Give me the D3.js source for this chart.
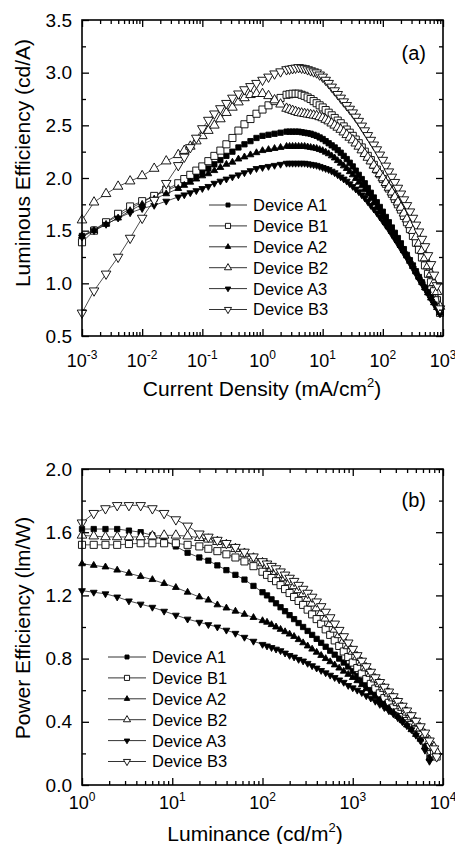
<!DOCTYPE html>
<html>
<head>
<meta charset="utf-8">
<script src="https://cdn.jsdelivr.net/npm/d3@7"></script>
<style>
  body { margin: 0; background: #fff; }
  svg text { font-family: "Liberation Sans", Arial, sans-serif; fill: #000; }
</style>
</head>
<body>
<div id="chart"></div>
<script>
// Series names (legend order)
const devices = ['Device A1', 'Device B1', 'Device A2', 'Device B2', 'Device A3', 'Device B3']

// Panel (a): log10 of current density (mA/cm2) and luminous efficiency (cd/A)
const logJ = [-3, -2.8, -2.6, -2.4, -2.2, -2, -1.8, -1.6, -1.4,
  -1.3, -1.2, -1.1, -1, -0.9, -0.8, -0.7, -0.6, -0.5, -0.4, -0.3, -0.2, -0.1, 0, 0.1, 0.2, 0.3, 0.4,
  0.45, 0.5, 0.55, 0.6, 0.65, 0.7, 0.75, 0.8, 0.85, 0.9, 0.95, 1, 1.05, 1.1, 1.15, 1.2, 1.25, 1.3, 1.35, 1.4,
  1.45, 1.5, 1.55, 1.6, 1.65, 1.7, 1.75, 1.8, 1.85, 1.9, 1.95, 2, 2.05, 2.1, 2.15, 2.2, 2.25, 2.3, 2.35, 2.4,
  2.45, 2.5, 2.55, 2.6, 2.65, 2.7, 2.75, 2.8, 2.85, 2.9, 2.95]
const leA1 = [1.45, 1.51, 1.58, 1.64, 1.71, 1.77, 1.83, 1.88, 1.93,
  1.96, 1.99, 2.02, 2.05, 2.09, 2.13, 2.17, 2.21, 2.25, 2.29, 2.32, 2.35, 2.38, 2.40, 2.41, 2.42, 2.43, 2.44,
  2.44, 2.44, 2.44, 2.44, 2.435, 2.43, 2.425, 2.42, 2.41, 2.40, 2.385, 2.37, 2.35, 2.33, 2.31, 2.29, 2.265, 2.24, 2.21, 2.18,
  2.145, 2.11, 2.07, 2.03, 1.99, 1.95, 1.905, 1.86, 1.815, 1.77, 1.725, 1.68, 1.63, 1.58, 1.53, 1.48, 1.43, 1.38, 1.325, 1.27,
  1.22, 1.17, 1.115, 1.06, 1.01, 0.96, 0.915, 0.87, 0.825, 0.78, 0.73]
const leB1 = [1.39, 1.50, 1.58, 1.66, 1.73, 1.78, 1.83, 1.89, 1.95,
  1.99, 2.03, 2.07, 2.11, 2.16, 2.21, 2.26, 2.32, 2.38, 2.45, 2.51, 2.56, 2.61, 2.65, 2.69, 2.73, 2.76, 2.79,
  2.795, 2.80, 2.80, 2.80, 2.79, 2.78, 2.765, 2.75, 2.73, 2.71, 2.69, 2.67, 2.645, 2.62, 2.595, 2.57, 2.545, 2.52, 2.49, 2.46,
  2.43, 2.40, 2.365, 2.33, 2.29, 2.25, 2.21, 2.17, 2.125, 2.08, 2.035, 1.99, 1.945, 1.90, 1.85, 1.80, 1.75, 1.70, 1.64, 1.58,
  1.515, 1.45, 1.385, 1.32, 1.245, 1.17, 1.09, 1.01, 0.925, 0.84, 0.72]
const leA2 = [1.45, 1.50, 1.56, 1.62, 1.69, 1.75, 1.80, 1.85, 1.90,
  1.93, 1.96, 1.99, 2.02, 2.04, 2.07, 2.10, 2.13, 2.15, 2.18, 2.20, 2.22, 2.24, 2.26, 2.27, 2.28, 2.29, 2.30,
  2.30, 2.30, 2.30, 2.30, 2.30, 2.30, 2.295, 2.29, 2.285, 2.28, 2.27, 2.26, 2.245, 2.23, 2.21, 2.19, 2.165, 2.14, 2.115, 2.09,
  2.06, 2.03, 1.995, 1.96, 1.925, 1.89, 1.85, 1.81, 1.765, 1.72, 1.675, 1.63, 1.585, 1.54, 1.495, 1.45, 1.405, 1.36, 1.31, 1.26,
  1.21, 1.16, 1.11, 1.06, 1.01, 0.96, 0.91, 0.86, 0.815, 0.77, 0.72]
const leB2 = [1.60, 1.77, 1.85, 1.92, 1.97, 2.02, 2.09, 2.16, 2.22,
  2.26, 2.30, 2.35, 2.40, 2.45, 2.50, 2.56, 2.62, 2.67, 2.72, 2.76, 2.79, 2.80, 2.80, 2.78, 2.74, 2.70, 2.66,
  2.65, 2.64, 2.63, 2.62, 2.615, 2.61, 2.605, 2.60, 2.595, 2.59, 2.58, 2.57, 2.555, 2.54, 2.52, 2.50, 2.48, 2.46, 2.435, 2.41,
  2.385, 2.36, 2.33, 2.30, 2.265, 2.23, 2.195, 2.16, 2.12, 2.08, 2.04, 2.00, 1.955, 1.91, 1.865, 1.82, 1.77, 1.72, 1.665, 1.61,
  1.555, 1.50, 1.44, 1.38, 1.31, 1.24, 1.165, 1.09, 1.005, 0.92, 0.78]
const leA3 = [1.44, 1.50, 1.56, 1.62, 1.67, 1.71, 1.74, 1.78, 1.82,
  1.84, 1.86, 1.88, 1.90, 1.92, 1.95, 1.97, 1.99, 2.01, 2.03, 2.05, 2.07, 2.09, 2.10, 2.11, 2.12, 2.13, 2.14,
  2.14, 2.14, 2.14, 2.14, 2.14, 2.14, 2.135, 2.13, 2.125, 2.12, 2.11, 2.10, 2.09, 2.08, 2.065, 2.05, 2.03, 2.01, 1.99, 1.97,
  1.945, 1.92, 1.895, 1.87, 1.84, 1.81, 1.775, 1.74, 1.705, 1.67, 1.63, 1.59, 1.55, 1.51, 1.465, 1.42, 1.375, 1.33, 1.285, 1.24,
  1.19, 1.14, 1.09, 1.04, 0.995, 0.95, 0.90, 0.85, 0.805, 0.76, 0.71]
const leB3 = [0.72, 0.93, 1.09, 1.25, 1.43, 1.62, 1.79, 1.95, 2.12,
  2.20, 2.29, 2.38, 2.47, 2.55, 2.61, 2.66, 2.71, 2.76, 2.80, 2.84, 2.87, 2.90, 2.93, 2.96, 2.99, 3.01, 3.03,
  3.035, 3.04, 3.045, 3.05, 3.045, 3.04, 3.03, 3.02, 3.01, 3.00, 2.98, 2.96, 2.93, 2.90, 2.865, 2.83, 2.795, 2.76, 2.725, 2.69,
  2.655, 2.62, 2.58, 2.54, 2.495, 2.45, 2.405, 2.36, 2.315, 2.27, 2.22, 2.17, 2.115, 2.06, 2.01, 1.96, 1.905, 1.85, 1.795, 1.74,
  1.68, 1.62, 1.555, 1.49, 1.42, 1.35, 1.265, 1.18, 1.08, 0.98, 0.76]

// Panel (b): log10 of luminance (cd/m2) and power efficiency (lm/W)
const logL = [0, 0.13, 0.26, 0.39, 0.52, 0.65, 0.78, 0.91, 1.04, 1.17, 1.3, 1.4, 1.5, 1.6, 1.7, 1.8, 1.9, 2,
  2.05, 2.1, 2.15, 2.2, 2.25, 2.3, 2.35, 2.4, 2.45, 2.5, 2.55, 2.6, 2.65, 2.7, 2.75, 2.8, 2.85, 2.9, 2.95,
  3, 3.05, 3.1, 3.15, 3.2, 3.25, 3.3, 3.35, 3.4, 3.45, 3.5, 3.55, 3.6, 3.65, 3.7, 3.75, 3.8, 3.85, 3.9, 3.93]
const peA1 = [1.62, 1.62, 1.62, 1.62, 1.61, 1.60, 1.58, 1.55, 1.51, 1.47, 1.44, 1.42, 1.39, 1.36, 1.33, 1.30, 1.26, 1.22,
  1.20, 1.175, 1.15, 1.125, 1.10, 1.075, 1.05, 1.025, 1.00, 0.975, 0.95, 0.925, 0.90, 0.875, 0.85, 0.825, 0.80, 0.775, 0.75,
  0.72, 0.69, 0.66, 0.63, 0.605, 0.58, 0.55, 0.52, 0.495, 0.47, 0.44, 0.41, 0.385, 0.36, 0.33, 0.30, 0.25, 0.17]
const peB1 = [1.52, 1.52, 1.52, 1.52, 1.525, 1.53, 1.53, 1.53, 1.53, 1.52, 1.51, 1.495, 1.48, 1.46, 1.44, 1.415, 1.385, 1.35,
  1.33, 1.31, 1.29, 1.265, 1.24, 1.215, 1.19, 1.165, 1.14, 1.11, 1.08, 1.05, 1.02, 0.985, 0.95, 0.915, 0.88, 0.845, 0.81,
  0.775, 0.74, 0.705, 0.67, 0.64, 0.61, 0.58, 0.55, 0.52, 0.49, 0.46, 0.43, 0.405, 0.38, 0.35, 0.32, 0.28, 0.24, 0.20, 0.18]
const peA2 = [1.40, 1.39, 1.38, 1.36, 1.34, 1.32, 1.30, 1.275, 1.25, 1.22, 1.19, 1.17, 1.14, 1.12, 1.10, 1.08, 1.06, 1.04,
  1.03, 1.015, 1.00, 0.985, 0.97, 0.955, 0.94, 0.92, 0.90, 0.88, 0.86, 0.84, 0.82, 0.80, 0.78, 0.76, 0.74, 0.72, 0.70,
  0.68, 0.66, 0.635, 0.61, 0.585, 0.56, 0.535, 0.51, 0.485, 0.46, 0.435, 0.41, 0.38, 0.35, 0.32, 0.29, 0.24, 0.17]
const peB2 = [1.58, 1.575, 1.57, 1.57, 1.57, 1.57, 1.575, 1.58, 1.58, 1.575, 1.565, 1.555, 1.54, 1.52, 1.495, 1.465, 1.435, 1.405,
  1.39, 1.37, 1.35, 1.33, 1.31, 1.285, 1.26, 1.235, 1.21, 1.18, 1.15, 1.12, 1.09, 1.055, 1.02, 0.985, 0.95, 0.915, 0.88,
  0.845, 0.81, 0.775, 0.74, 0.705, 0.67, 0.64, 0.61, 0.58, 0.55, 0.52, 0.49, 0.46, 0.43, 0.395, 0.36, 0.32, 0.28, 0.24, 0.21]
const peA3 = [1.23, 1.22, 1.21, 1.19, 1.165, 1.145, 1.125, 1.10, 1.075, 1.05, 1.03, 1.015, 1.00, 0.98, 0.96, 0.935, 0.91, 0.89,
  0.88, 0.87, 0.86, 0.85, 0.835, 0.82, 0.81, 0.795, 0.785, 0.77, 0.755, 0.74, 0.725, 0.71, 0.695, 0.68, 0.665, 0.65, 0.63,
  0.615, 0.60, 0.585, 0.565, 0.55, 0.53, 0.51, 0.49, 0.47, 0.45, 0.425, 0.40, 0.375, 0.35, 0.315, 0.28, 0.22, 0.15]
const peB3 = [1.66, 1.72, 1.75, 1.77, 1.77, 1.77, 1.75, 1.72, 1.68, 1.64, 1.59, 1.57, 1.55, 1.53, 1.505, 1.475, 1.445, 1.415,
  1.40, 1.385, 1.37, 1.35, 1.33, 1.31, 1.29, 1.265, 1.24, 1.215, 1.19, 1.16, 1.13, 1.095, 1.06, 1.02, 0.98, 0.94, 0.90,
  0.86, 0.82, 0.785, 0.75, 0.715, 0.68, 0.65, 0.62, 0.59, 0.56, 0.53, 0.50, 0.47, 0.44, 0.405, 0.37, 0.33, 0.28, 0.23, 0.18]

// Tick labels
const jTicks = [1e-3, 1e-2, 1e-1, 1, 10, 100, 1000]
const jExp = ['-3', '-2', '-1', '0', '1', '2', '3']
const leTicks = [0.5, 1.0, 1.5, 2.0, 2.5, 3.0, 3.5]
const leMinor = [0.75, 1.25, 1.75, 2.25, 2.75, 3.25]
const lTicks = [1, 10, 100, 1000, 10000]
const lExp = ['0', '1', '2', '3', '4']
const peTicks = [0.0, 0.4, 0.8, 1.2, 1.6, 2.0]
const peMinor = [0.2, 0.6, 1.0, 1.4, 1.8]

// marker style per device
const marks = [
  { type: d3.symbolSquare, fill: '#000', size: 28, lsize: 16, rot: 0 },
  { type: d3.symbolSquare, fill: '#fff', size: 50, lsize: 26, rot: 0 },
  { type: d3.symbolTriangle, fill: '#000', size: 20, lsize: 13, rot: 0 },
  { type: d3.symbolTriangle, fill: '#fff', size: 40, lsize: 22, rot: 0 },
  { type: d3.symbolTriangle, fill: '#000', size: 20, lsize: 13, rot: 180 },
  { type: d3.symbolTriangle, fill: '#fff', size: 40, lsize: 22, rot: 180 }
]

const width = 455
const height = 844
const left = 82
const right = 443

const svg = d3.select('#chart')
  .append('svg')
  .attr('width', width)
  .attr('height', height)

svg.append('rect').attr('width', width).attr('height', height).attr('fill', '#fff')

const panels = [
  {
    top: 20, bottom: 336, xDomain: [1e-3, 1e3], yDomain: [0.5, 3.5],
    xs: logJ, ys: [leA1, leB1, leA2, leB2, leA3, leB3],
    xTicks: jTicks, xExp: jExp, yTicks: leTicks, yMinor: leMinor,
    xLabelY: 367, yTitle: 'Luminous Efficiency (cd/A)', yTitleC: 163,
    xTitle: ['Current Density (mA/cm', '2', ')'], xTitleX: 262, xTitleY: 396,
    tag: '(a)', tagY: 60, legX: 209, legY: 205
  },
  {
    top: 469, bottom: 785, xDomain: [1, 1e4], yDomain: [0, 2],
    xs: logL, ys: [peA1, peB1, peA2, peB2, peA3, peB3],
    xTicks: lTicks, xExp: lExp, yTicks: peTicks, yMinor: peMinor,
    xLabelY: 809, yTitle: 'Power Efficiency (lm/W)', yTitleC: 628,
    xTitle: ['Luminance (cd/m', '2', ')'], xTitleX: 255, xTitleY: 841,
    tag: '(b)', tagY: 507, legX: 108, legY: 657
  }
]

panels.forEach(p => {
  const x = d3.scaleLog().domain(p.xDomain).range([left, right])
  const y = d3.scaleLinear().domain(p.yDomain).range([p.bottom, p.top])
  const g = svg.append('g')

  // series: thin line + markers
  p.ys.forEach((vals, i) => {
    const pts = d3.zip(p.xs, vals)
    g.append('path')
      .datum(pts)
      .attr('fill', 'none')
      .attr('stroke', '#222')
      .attr('stroke-width', 0.8)
      .attr('d', d3.line().x(d => x(10 ** d[0])).y(d => y(d[1])))
    const m = marks[i]
    g.selectAll(null)
      .data(pts)
      .join('path')
      .attr('d', d3.symbol(m.type, m.size))
      .attr('transform', d => `translate(${x(10 ** d[0])},${y(d[1])}) rotate(${m.rot})`)
      .attr('fill', m.fill)
      .attr('stroke', '#000')
      .attr('stroke-width', 0.9)
  })

  // ticks on all four sides, pointing inward
  const xMinor = x.ticks().filter(v => !p.xTicks.some(t => Math.abs(v - t) / t < 1e-6))
  const tickSets = [
    [d3.axisBottom(x), `translate(0,${p.bottom})`, p.xTicks, xMinor],
    [d3.axisTop(x), `translate(0,${p.top})`, p.xTicks, xMinor],
    [d3.axisLeft(y), `translate(${left},0)`, p.yTicks, p.yMinor],
    [d3.axisRight(y), `translate(${right},0)`, p.yTicks, p.yMinor]
  ]
  tickSets.forEach(([axis, tr, major, minor]) => {
    svg.append('g').attr('transform', tr)
      .call(axis.tickValues(major).tickSize(-7).tickFormat(''))
      .call(s => s.select('.domain').remove())
      .call(s => s.selectAll('line').attr('stroke-width', 1.3))
    svg.append('g').attr('transform', tr)
      .call(axis.tickValues(minor).tickSize(-4).tickFormat(''))
      .call(s => s.select('.domain').remove())
      .call(s => s.selectAll('line').attr('stroke-width', 1.3))
  })

  svg.append('rect')
    .attr('x', left).attr('y', p.top)
    .attr('width', right - left).attr('height', p.bottom - p.top)
    .attr('fill', 'none').attr('stroke', '#000').attr('stroke-width', 1.6)

  // y tick labels
  svg.append('g').selectAll('text')
    .data(p.yTicks)
    .join('text')
    .attr('x', 72)
    .attr('y', d => y(d))
    .attr('dy', '0.35em')
    .attr('text-anchor', 'end')
    .style('font-size', '19px')
    .text(d => d3.format('.1f')(d))

  // x tick labels 10^n
  svg.append('g').selectAll('text')
    .data(p.xTicks)
    .join('text')
    .attr('x', d => x(d))
    .attr('y', p.xLabelY)
    .attr('text-anchor', 'middle')
    .style('font-size', '18px')
    .call(t => t.append('tspan').text('10'))
    .call(t => t.append('tspan').attr('dy', -8).style('font-size', '12px')
      .text((d, i) => p.xExp[i]))

  // axis titles
  svg.append('text')
    .attr('transform', `translate(30,${p.yTitleC}) rotate(-90)`)
    .attr('text-anchor', 'middle')
    .style('font-size', '21px')
    .text(p.yTitle)

  svg.append('text')
    .attr('x', p.xTitleX)
    .attr('y', p.xTitleY)
    .attr('text-anchor', 'middle')
    .style('font-size', '21px')
    .call(t => t.append('tspan').text(p.xTitle[0]))
    .call(t => t.append('tspan').attr('dy', -9).style('font-size', '13px').text(p.xTitle[1]))
    .call(t => t.append('tspan').attr('dy', 9).text(p.xTitle[2]))

  svg.append('text')
    .attr('x', 426)
    .attr('y', p.tagY)
    .attr('text-anchor', 'end')
    .style('font-size', '20px')
    .text(p.tag)

  // legend
  const leg = svg.append('g')
    .selectAll('g')
    .data(devices)
    .join('g')
    .attr('transform', (d, i) => `translate(${p.legX},${p.legY + i * 20.9})`)
  leg.append('line')
    .attr('x1', 0).attr('x2', 38)
    .attr('stroke', '#333').attr('stroke-width', 1)
  leg.append('path')
    .attr('d', (d, i) => d3.symbol(marks[i].type, marks[i].lsize)())
    .attr('transform', (d, i) => `translate(19,0) rotate(${marks[i].rot})`)
    .attr('fill', (d, i) => marks[i].fill)
    .attr('stroke', '#000')
    .attr('stroke-width', 0.9)
  leg.append('text')
    .attr('x', 44)
    .attr('dy', '0.36em')
    .style('font-size', '16.5px')
    .text(d => d)
})
</script>
</body>
</html>
